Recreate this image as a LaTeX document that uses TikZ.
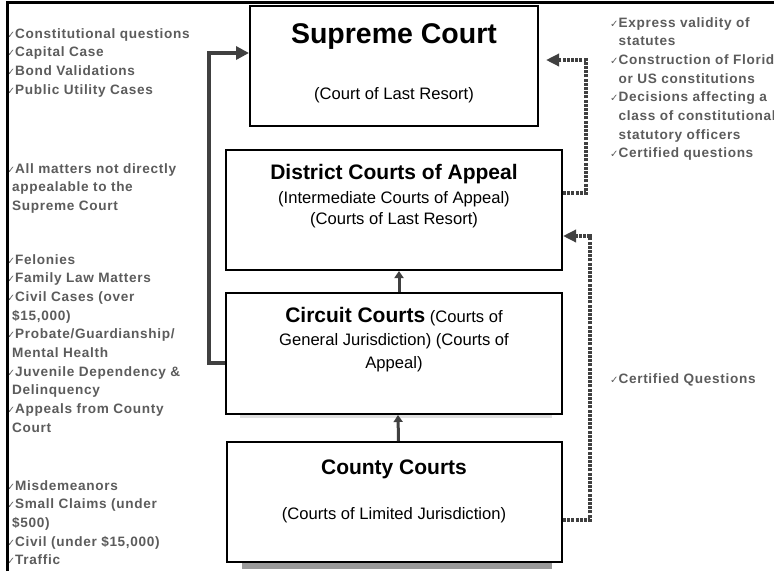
\documentclass[tikz,border=0pt]{standalone}
\usepackage{fontspec}
\setmainfont{Liberation Sans}
\newfontfamily\checkfont{DejaVu Sans}
\newfontfamily\listfont[LetterSpace=5]{Liberation Sans}
\usetikzlibrary{arrows.meta}
\definecolor{listgray}{HTML}{5C5C5C}
\definecolor{linegray}{HTML}{404040}
\definecolor{shadowgray}{HTML}{9A9A9A}
\newcommand{\tick}{{\checkfont\fontsize{10}{10}\selectfont ✓}}
\newcommand{\ltick}{\hspace*{3pt}\llap{\tick}}

\begin{document}
\begin{tikzpicture}[x=1pt,y=-1pt,
    courtbox/.style={draw, line width=2pt, fill=white, inner sep=0pt},
    courtname/.style={font=\bfseries\fontsize{21}{25}\selectfont, anchor=base},
    courtrole/.style={font=\fontsize{16.6}{21}\selectfont, align=center, inner sep=0pt},
    caselist/.style={font=\listfont\bfseries\fontsize{13.6}{18.7}\selectfont, text=listgray,
        align=left, anchor=north west, inner sep=0pt},
    appealline/.style={draw=linegray, line width=4pt, -{Triangle[length=13pt,width=13pt]}},
    stepline/.style={draw=linegray, line width=3pt, -{Triangle[length=7pt,width=9pt]}},
    certline/.style={draw=linegray, line width=3.5pt, dash pattern=on 3pt off 1.2pt,
        -{Triangle[length=13pt,width=12pt]}}]
    % Fix the picture size
    \clip (0,0) rectangle (774,571);
    \fill[white] (0,0) rectangle (774,571);
    % Draw the frame
    \draw[line width=3pt] (7.5,571) -- (7.5,2.5) -- (774,2.5);
    % Shadows under the lower boxes
    \fill[black!12] (240,415) rectangle (552,418);
    \fill[shadowgray] (242,563) rectangle (552,569);
    % The courts
    \node[courtbox, minimum width=288pt, minimum height=120pt] (supreme) at (394,66) {};
    \node[courtbox, minimum width=336pt, minimum height=120pt] (district) at (394,210) {};
    \node[courtbox, minimum width=336pt, minimum height=121pt] (circuit) at (394,353.5) {};
    \node[courtbox, minimum width=335pt, minimum height=120pt] (county) at (394.5,502) {};
    % Box texts
    \node[courtname, font=\bfseries\fontsize{28.5}{34}\selectfont] (supremename) at (394,43) {Supreme Court};
    \node[courtrole, anchor=base] (supremerole) at (394,99) {(Court of Last Resort)};
    \node[courtname] (districtname) at (394,179.5) {District Courts of Appeal};
    \node[courtrole, anchor=north] (districtrole) at (394,191) {(Intermediate Courts of Appeal)\\(Courts of Last Resort)};
    \node[courtrole, anchor=north, font=\fontsize{16.6}{23}\selectfont] (circuitname) at (394,307)
        {{\bfseries\fontsize{21}{23}\selectfont Circuit Courts} (Courts of\\General Jurisdiction) (Courts of\\Appeal)};
    \node[courtname] (countyname) at (394,474.5) {County Courts};
    \node[courtrole, anchor=base] (countyrole) at (394,519) {(Courts of Limited Jurisdiction)};
    % Appeals up the ladder
    \draw[stepline] ([xshift=5pt]circuit.north) -- ([xshift=5pt]district.south);
    \draw[stepline] ([xshift=4pt]county.north) -- ([xshift=4pt]circuit.south);
    \draw[appealline] ([yshift=-9.5pt]circuit.west) -- ++(-16,0) |- ([yshift=13pt]supreme.west);
    % Certified questions
    \draw[certline] ([yshift=17pt]district.east) -- ++(23,0) |- ([xshift=7pt,yshift=6pt]supreme.east);
    \draw[certline] ([yshift=-18pt]county.east) -- ++(27,0) |- ([yshift=-26pt]district.east);
    % Case lists on the left
    \begin{scope}
        \clip (9.5,0) rectangle (250,571);
        \node[caselist] (supremelist) at (12,28) {\ltick Constitutional questions\\\ltick Capital Case\\\ltick Bond Validations\\\ltick Public Utility Cases};
        \node[caselist] (districtlist) at (12,163) {\ltick All matters not directly\\appealable to the\\Supreme Court};
        \node[caselist] (circuitlist) at (12,254) {\ltick Felonies\\\ltick Family Law Matters\\\ltick Civil Cases (over\\\$15,000)\\\ltick Probate/Guardianship/\\Mental Health\\\ltick Juvenile Dependency \&\\Delinquency\\\ltick Appeals from County\\Court};
        \node[caselist] (countylist) at (12,480) {\ltick Misdemeanors\\\ltick Small Claims (under\\\$500)\\\ltick Civil (under \$15,000)\\\ltick Traffic};
    \end{scope}
    % Case lists on the right
    \node[caselist] (supremecert) at (610,17) {\tick Express validity of\\\phantom{\tick}statutes\\\tick Construction of Florida\\\phantom{\tick}or US constitutions\\\tick Decisions affecting a\\\phantom{\tick}class of constitutional or\\\phantom{\tick}statutory officers\\\tick Certified questions};
    \node[caselist] (districtcert) at (610,373) {\tick Certified Questions};
\end{tikzpicture}
\end{document}
